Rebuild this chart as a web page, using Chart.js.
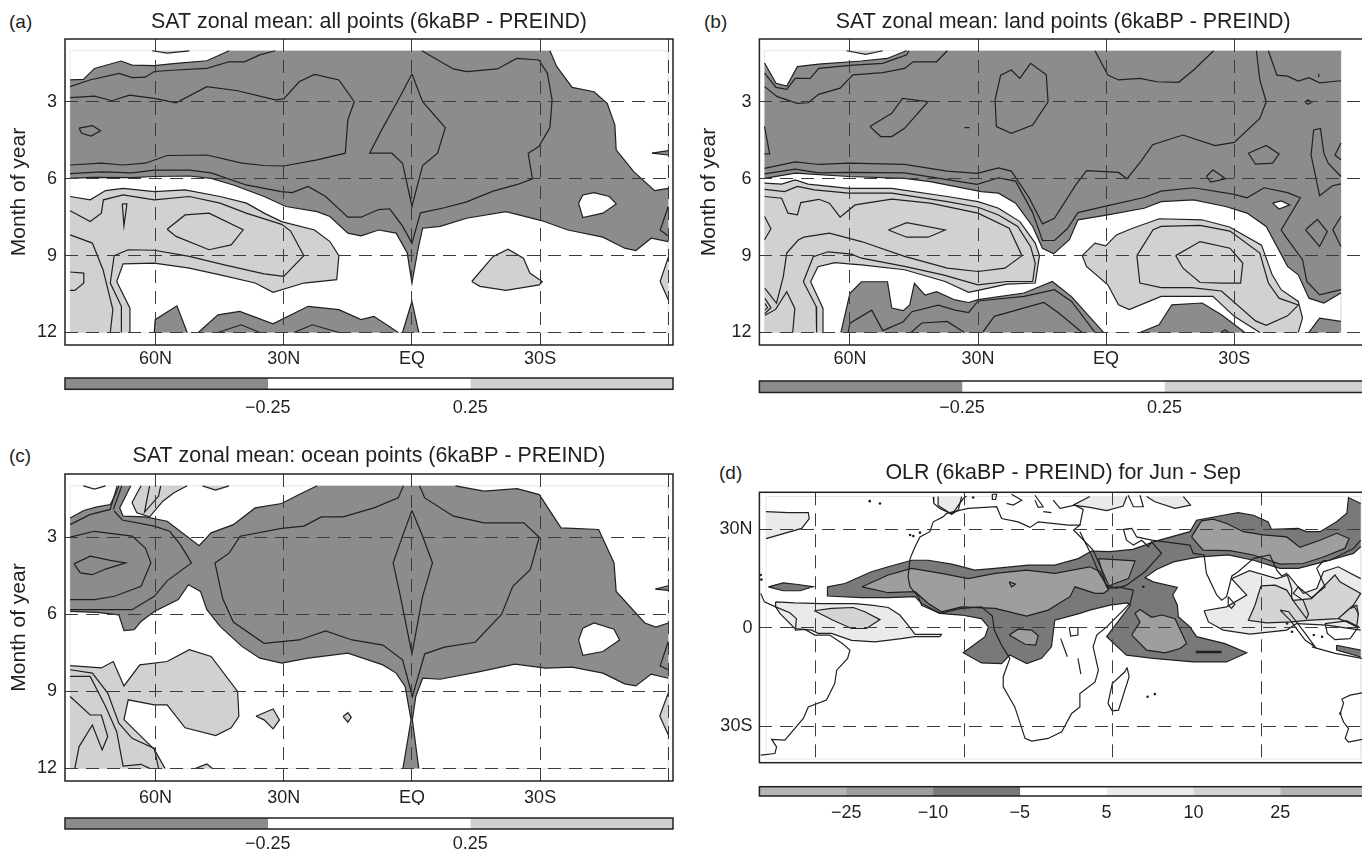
<!DOCTYPE html>
<html>
<head>
<meta charset="utf-8">
<title>SAT and OLR anomalies</title>
<script src="https://cdn.jsdelivr.net/npm/chart.js@4"></script>
<style>
  html, body { margin: 0; background: #fff; overflow: hidden; }
  #page { position: relative; width: 1362px; height: 850px; overflow: hidden; }
  canvas { position: absolute; }
  .tag { position: absolute; font: 19px "Liberation Sans", Arial, sans-serif; color: #231f20; line-height: 20px; }
</style>
</head>
<body>
<div id="page">
  <div class="tag" style="left:9px;top:12px">(a)</div>
  <div class="tag" style="left:704px;top:12px">(b)</div>
  <div class="tag" style="left:9px;top:446px">(c)</div>
  <div class="tag" style="left:719px;top:463px">(d)</div>
</div>
<script>
// tick labels and colour bars
const monthTicks = [3, 6, 9, 12];
const latTicks = [60, 30, 0, -30, -60];
const latNames = { 60: '60N', 30: '30N', 0: 'EQ', '-30': '30S', '-60': '' };
const mapLatTicks = [30, 0, -30];
const mapLatNames = { 30: '30N', 0: '0', '-30': '30S' };
const mapLonTicks = [-45, 0, 45, 90];
const satBarLabels = ['\u22120.25', '0.25'];
const olrBarLabels = ['\u221225', '\u221210', '\u22125', '5', '10', '25'];

// faint outline of the data box, [latitude, month] and [longitude, latitude]
const allBox = [[80,1],[-60,1],[-60,12],[80,12],[80,1]];
const landBox = [[80,1],[-55,1],[-55,12],[80,12],[80,1]];
const mapBox = [[-60,40],[120,40],[120,-40],[-60,-40],[-60,40]];

// panel (a), points are [latitude, month]
const aDark = [[80,2.14],[76.9,2.12],[74.3,1.69],[68.1,1.4],[65.5,1.56],[60.3,1.58],[55.2,1.49],[48,1.39],[42.8,1],[-32.3,1],[-33.9,1.62],[-37.5,2.43],[-42.6,2.6],[-45.7,3.05],[-47.5,3.9],[-47.8,4.87],[-51.9,5.72],[-56.8,6.46],[-60,6.37],[-60,8.45],[-56,8.32],[-52.4,8.8],[-49.8,8.71],[-44.7,8.28],[-36.5,8],[-30.3,7.63],[-22,7.28],[-12.8,7.54],[-6.6,7.86],[-2.5,7.93],[-1.4,8.77],[0,10.07],[1.1,8.9],[3.7,8.12],[7.8,8],[11.9,8.23],[15,8.12],[19.2,7.47],[22.2,7.28],[29.5,7.08],[34.6,6.69],[41.8,6.24],[47,5.98],[52.1,5.89],[60.3,5.91],[65.5,5.95],[74.8,5.94],[80,5.98]];
const aLight = [[80,6.69],[75.3,6.82],[71.7,6.46],[67.6,6.37],[60.3,6.5],[53.1,6.43],[44.9,6.69],[38.7,6.95],[34.6,7.34],[30.5,7.67],[22.8,8],[19.2,8.45],[17.1,9],[17.6,9.94],[25.3,10.07],[32.5,10.43],[36.7,10.07],[44.9,9.75],[52.1,9.49],[60.3,9.29],[67.6,9.32],[69.1,10.01],[66,11.05],[66,12],[80,12]];
const aLightBlob = [[-14,10.01],[-19,9.03],[-22.5,8.75],[-26.1,9.1],[-27.6,9.68],[-30.5,10.01],[-29.8,10.14],[-22,10.36],[-15.9,10.2]];
const aLightTop = [[60.8,1],[57.3,1.09],[52.1,1]];
const aLightRight = [[-60,9.06],[-58.1,10.01],[-60,10.72]];
const aWhiteHole = [[-39,6.95],[-40,6.63],[-42.6,6.54],[-46.2,6.69],[-47.8,6.98],[-44.7,7.34],[-40,7.51]];
const aDarkSliver = [[-56.2,5],[-60,4.9],[-60,5.07]];
const aDarkLow1 = [[60.3,12],[60.1,11.5],[55,10.96],[52.6,12]];
const aDarkLow2 = [[50,12],[45.4,11.31],[40.3,11.18],[32.5,11.66],[24.3,10.98],[17.1,11.11],[11.9,11.5],[8.9,11.37],[3.2,12]];
const aDarkLow3 = [[2.2,12],[0,10.79],[-1.6,12]];
const aLines = [
  [[80,2.4],[75.4,2.14],[68.5,1.88],[65.5,2.05],[62.4,2.03],[60.3,1.81],[55.2,1.75],[48,1.69],[42.8,1.43],[39.2,1.43],[35.6,1.16],[32,1]],
  [[80,2.83],[74.3,2.77],[70.2,2.95],[66.1,2.73],[60.3,2.86],[55.2,3.03],[48,2.4],[40.8,2.56],[32,2.92],[30,2.88],[26.4,2.21],[22.8,1.92],[17.1,2.14],[13.5,2.99],[15,3.7],[15.6,5],[22.2,5.26],[30,5.5],[34.6,5.48],[39.8,5.39],[48,5.07],[57.3,5.09],[62.4,5.39],[67.6,5.46],[72.7,5.39],[80,5.46]],
  [[80,5.8],[72.7,5.73],[65.5,5.77],[60.3,5.66],[52.1,5.66],[47,5.77],[38.8,6.24],[30.6,6.5],[28,6.54],[24.3,6.3],[20.2,6.69],[15,7.5],[11.9,7.5],[7.8,7.2],[5.2,7.17],[2.2,7.85],[0,8.51],[-2,7.33],[-7.6,7.13],[-12.8,6.9],[-19,6.48],[-24.7,6.22],[-28.2,6],[-27.2,5],[-29.7,4.74],[-32.3,4],[-32.8,2.92],[-31.7,1.88],[-29.7,1.36],[-24.5,1.3],[-20,1.71],[-12.8,1.81],[-9.7,1.71],[-2.3,1]],
  [[0,1.91],[-2.5,2.99],[-7.8,4],[-6,5],[-2.5,5.48],[0,7.08],[2.2,5.39],[4.7,5],[9.9,5],[6.8,4],[3.2,2.92],[0,1.91]],
  [[77.9,4.02],[74.8,3.92],[72.9,4.12],[75.1,4.33],[77.3,4.22],[77.9,4.02]],
  [[-60,7.08],[-58.1,8],[-60,8.23]],
  [[80,7.25],[75.3,7.67],[72.7,7.34],[72.2,6.82],[67.6,6.63],[60.3,6.82],[52.1,6.69],[44.9,6.95],[38.8,7.34],[30.5,7.78],[28.4,8.04],[25.3,9],[30,9.81],[34.6,9.71],[43.9,9.36],[52.1,9.03],[60.3,8.79],[66.4,8.77],[69.7,9],[70.6,10.07],[68,10.98],[68,12]],
  [[80,8.19],[74.8,8.51],[72.3,9.55],[70,11.11],[70.6,12]],
  [[57.3,7.97],[53.1,7.41],[47.5,7.34],[39.5,7.99],[42.3,8.58],[47.5,8.77],[55.2,8.25],[57.3,7.97]],
  [[80,9.64],[76.8,9.68],[76.8,10.07],[78.9,10.36],[80,10.36]],
  [[67.8,6.98],[66.7,6.98],[67.4,7.84],[67.8,6.98]],
  [[45.4,12],[40,11.7],[35.6,12]],
  [[27.6,12],[23.3,11.7],[17.1,12]]
];

// panel (b), points are [latitude, month]
const bDark = [[80,1.48],[77.3,2.27],[74.8,2.38],[72.3,1.62],[67.3,1.52],[57.3,1.4],[51.3,1.3],[47.2,1.03],[46.7,1],[-55,1],[-55,10.46],[-51,10.85],[-47.5,10.66],[-45,9.75],[-42.5,9.42],[-37.5,7.86],[-33,7.34],[-28,7.08],[-20.5,6.82],[-12.9,6.89],[-8.9,7.15],[-0.4,7.41],[6.6,7.6],[8.6,8.38],[12.3,8.93],[14.9,8.71],[17.2,7.86],[21.2,6.95],[25.2,6.56],[29.2,6.5],[41.2,6.11],[47.2,5.98],[60.3,5.91],[72.8,5.78],[80,5.98]];
const bLight = [[80,6.17],[76,6.21],[72.8,6.04],[69.8,6.21],[60.3,6.37],[50.2,6.37],[37.2,6.69],[30,6.89],[25.2,7.15],[20.2,7.67],[16.6,8.51],[15.6,9],[16.6,10.07],[23.2,10.11],[30,10.36],[32.2,10.43],[37.7,10.01],[47.2,9.55],[57.3,9.36],[59.6,9.33],[63.5,9.27],[67.5,9.43],[69.2,10.02],[66.3,11.06],[66.3,12],[80,12]];
const bLightRight = [[5.6,9],[2.6,8.51],[0.1,8.62],[-2.4,8.19],[-5.9,7.95],[-12.4,7.56],[-22.4,7.6],[-28.9,7.88],[-36.4,8.59],[-38.9,9.75],[-41,10.33],[-45,10.79],[-46,11.44],[-45,12],[-36,12],[-30,11.37],[-25,10.59],[-12.9,10.59],[-5.4,11.11],[-2.9,10.92],[-0.4,10.14],[4.6,9.42]];
const bLightTop = [[60.8,1],[56.3,1.14],[52.3,1]];
const bDarkLow = [[62.1,12],[60,10.47],[57.3,10.02],[51.2,10.02],[50.2,11.05],[47.5,11.15],[46,10.93],[44.9,10.08],[42.4,10.54],[39.7,10.41],[35.4,10.73],[32.2,10.83],[30,10.72],[19.2,10.46],[12.6,10.01],[8.1,10.6],[0.6,12]];
const bDarkLowRight = [[-7.9,12],[-12.4,11.7],[-15.4,10.92],[-22.5,10.85],[-27,11.31],[-32.5,12]];
const bDarkCorner = [[-47.5,12],[-50,11.44],[-55,11.57],[-55,12]];
const bWhiteHole = [[-39,6.95],[-41,6.86],[-43,7.02],[-40.5,7.18]];
const bLines = [
  [[80,2.4],[77,2.79],[72.3,3.05],[69.8,3.03],[67.3,2.7],[62.3,2.46],[59.3,1.94],[52.3,1.85],[47.2,1.69],[45.2,1.43],[39.7,1.43],[37.2,1]],
  [[80,1.87],[77.3,2.43],[74.8,2.51],[72.8,2.08],[69.3,2.08],[67.3,1.69],[59.3,1.56],[52.3,1.49],[46.7,1.16],[46.2,1]],
  [[80,5.59],[72.8,5.34],[67.3,5.44],[60.3,5.39],[47.2,5.44],[37.2,5.7],[30.2,5.79],[25.2,5.57],[22.2,5.7],[18.2,6.69],[14.9,7.76],[12.1,7.54],[7.1,6.24],[4.6,5.68],[-2.9,5.75],[-4.9,6],[-8.4,5.26],[-10.9,4.67],[-18,4.29],[-25.5,4.7],[-30,4.58],[-36,3.64],[-37.5,2.99],[-36,2.14],[-35.2,1]],
  [[80,5.81],[72.8,5.62],[67.3,5.77],[60.3,5.75],[47.2,5.77],[37.2,6.03],[30.2,6.22],[25.2,5.96],[21.2,6.09],[17.2,7.32],[14.9,8.41],[12.1,8.41],[9.1,7.95],[6.6,7.32],[-0.4,7.05],[-8.9,6.73],[-12.9,6.48],[-20.5,6.35],[-30,6.61],[-33,6.74],[-37,6.35],[-42.5,6.54],[-45.5,6.74],[-41,8],[-42,8.25],[-46,9.16],[-47,10.01],[-50,10.53],[-55,10.33]],
  [[-38,1],[-40,1.95],[-42.5,1.99],[-45,2.18],[-47.5,2.05],[-50,2.25],[-55,2.17]],
  [[26,2.92],[24.7,1.95],[22.2,1.75],[20.2,2.08],[17.7,1.49],[14,1.94],[13.6,2.99],[17.2,3.9],[22.2,4.22],[25.7,3.96],[26,2.92]],
  [[55.3,3.96],[50.2,3.44],[47.7,2.86],[41.7,2.99],[47.2,4.03],[50.2,4.35],[52.8,4.35],[55.3,3.96]],
  [[80,3.96],[78.8,5.03],[80,5.03]],
  [[2.6,1],[-0.4,1.95],[-2.9,2.14],[-7.9,2.08],[-11.9,2.21],[-17,2.23],[-20.5,1.75],[-25.2,1]],
  [[-33.3,5],[-37.5,4.7],[-40.5,5.03],[-39,5.39],[-35,5.43],[-33.3,5]],
  [[-23.5,5.91],[-25,5.65],[-28,6],[-24.5,6.13],[-23.5,5.91]],
  [[-46.7,7.99],[-49.5,7.58],[-51.8,8.06],[-50,8.64],[-46.7,7.99]],
  [[-55,5.91],[-52,5.39],[-51,5],[-50.2,4.03],[-48.6,4.09],[-48,5.07],[-50,6.66],[-53,6.27],[-55,6.2]],
  [[-55,4.6],[-53.6,5.07],[-55,5.26]],
  [[-55,7.47],[-53.1,7.99],[-55,8.64]],
  [[-46.5,3],[-47.3,2.92],[-48.2,3],[-47.3,3.09],[-46.5,3]],
  [[33.2,4],[32,4]],
  [[-49.8,1.9],[-49.8,2.03]],
  [[80,6.41],[75.3,6.5],[72.3,6.3],[68.3,6.43],[60.3,6.56],[50.2,6.56],[37.2,6.89],[30,7.11],[25.2,7.41],[20.7,7.86],[17.7,8.64],[16.6,9.29],[17.2,10.01],[23.2,10.01],[30,10.14],[38.2,9.75],[47.2,9.42],[57.3,9.1],[59.6,8.94],[65.1,8.85],[68.6,9.04],[70.9,10.02],[67.9,10.99],[67.8,12]],
  [[80,6.69],[76,6.76],[74.5,7.34],[72.3,7.41],[71.5,6.93],[67.3,6.8],[64.8,6.95],[62.3,7.5],[58.8,7.02],[50.2,6.79],[41.2,6.95],[30,7.34],[22.7,7.93],[19.7,9],[23.7,9.49],[30,9.62],[37.2,9.49],[47.2,9.03],[57.3,8.45],[64.8,8.12],[70.8,8.28],[72.1,8.39],[74.8,8.9],[75.6,9.82],[77.2,10.86],[79.9,10.28]],
  [[79.9,11.33],[77.4,11.1],[74.8,10.41],[72.9,11.06],[73.4,12]],
  [[79.9,10.67],[78.5,11.03],[79.9,11.26]],
  [[79.9,10.87],[79.3,11.03],[79.9,11.13]],
  [[51,8],[46.7,7.71],[37.7,8],[41.7,8.28],[46.7,8.28],[51,8]],
  [[80,7.47],[78.5,7.95],[80,8.38]],
  [[-7.2,9],[-11,7.99],[-12.9,7.86],[-22,7.82],[-29,8.04],[-36,8.9],[-38,10.07],[-40.5,10.66],[-45,10.93],[-42.5,11.35],[-37.5,11.72],[-35,11.55],[-27,10.38],[-20,10.25],[-12.9,10.25],[-7.9,10.07],[-7.2,9]],
  [[-16.3,9],[-22,8.45],[-29,8.71],[-32,9.29],[-31.5,10.07],[-27,10.07],[-22,10.05],[-18,9.49],[-16.3,9]],
  [[60.4,12],[60,11.64],[54.9,11.13],[52.3,11.93],[47.5,11.58],[45.5,11.19],[39.3,10.93],[35.4,11.13],[32.2,11.22],[30,10.77],[19.2,10.59],[12.1,10.33],[8.1,10.79],[2.6,12]],
  [[28.9,12],[26.2,11.37],[14.6,10.83],[11.1,11.24],[5.6,12]],
  [[45.7,12],[43.2,11.63],[37.2,11.57],[33.2,12]],
  [[-26.8,12],[-27.8,11.9],[-28.8,12]]
];

// panel (c), points are [latitude, month]
const cDark = [[80,2.25],[76.8,1.96],[73.7,1.82],[70.6,1.73],[69.4,1.34],[68.6,1],[65.8,1],[68.4,1.86],[67.6,2.18],[62.4,2.21],[57.3,2.38],[49.8,3.33],[47,2.83],[41.8,2.51],[36.7,1.86],[30.5,1.69],[26.4,1.34],[22.2,1],[-10.2,1],[-16.9,1.21],[-24.6,1.11],[-29.8,1.34],[-34.9,2.64],[-43.7,2.7],[-47.3,4],[-47.8,5.11],[-54.5,6.34],[-57.1,6.5],[-60,6.34],[-60,8.49],[-56,8.33],[-52.4,8.79],[-49.8,8.71],[-44.7,8.29],[-37.5,8.06],[-31.3,8.1],[-24.1,7.94],[-15.9,8.23],[-6.6,8.53],[-2.5,8.49],[-0.9,9.2],[-0.1,10.11],[-1.6,12],[2.1,12],[0.2,10.11],[1.6,8.81],[3.7,8.29],[6.8,7.97],[15,7.51],[24.3,7.71],[30.5,7.9],[35.6,7.71],[39.8,7.25],[44.9,6.47],[48,5.82],[49.5,5.11],[52.3,4.85],[54.7,5.43],[60.3,5.89],[63.4,6.28],[65,6.6],[67.4,6.64],[68.6,6.02],[73.7,5.93],[80,5.89]];
const cLight = [[80,8],[72.7,8.09],[69.9,7.84],[67.4,8.79],[63.7,7.97],[57.3,7.84],[52.1,7.38],[47,7.64],[40.8,9],[40.5,9.97],[42.3,10.42],[45.9,10.72],[53.1,10.42],[57.3,9.53],[60.3,9.53],[66.4,9.33],[67.4,10.1],[60.3,11.26],[57.8,12],[80,12]];
const cLightTop = [[63.4,1],[65.5,1.65],[64.4,2.05],[61.4,2.21],[58.3,1.6],[55.7,1.27],[52.6,1]];
const cLightTop2 = [[49,1],[46,1.17],[42.8,1]];
const cLightBlob = [[36.5,9.97],[32.5,9.69],[31,10.11],[32.5,10.46],[34.6,10.11]];
const cLightDiamond = [[16.1,9.98],[15,9.83],[14.2,10.01],[15,10.2]];
const cLightLow = [[50.6,12],[48,11.83],[46.7,12]];
const cLightRight = [[-60,9.06],[-58,9.96],[-60,10.7]];
const cWhiteHole = [[-39,7],[-40,6.54],[-42.6,6.34],[-47.3,6.58],[-48.6,7],[-44.7,7.45],[-40,7.6]];
const cDarkSliver = [[-57,5.02],[-60,4.89],[-60,5.07]];
const cLines = [
  [[80,2.51],[75.4,2.12],[70.6,1.92],[69,1]],
  [[69.9,1.92],[67.9,1]],
  [[69.7,1.98],[67.8,2.33],[60.3,2.57],[56.7,2.77],[54.2,3.29],[51.6,4],[57.3,4.7],[60.3,5.3],[65.5,5.82],[80,5.82]],
  [[80,3],[74.3,2.77],[65.5,2.96],[62.4,3.42],[61.1,4],[63.4,4.91],[69.6,5.3],[74.3,5.43],[80,5.43]],
  [[79.1,4.04],[75.3,3.74],[70.6,3.9],[67,4],[71.7,4.24],[74.8,4.46],[77.6,4.39],[79.1,4.04]],
  [[46.1,4],[42.8,3.62],[40.2,2.96],[30.5,2.66],[25.3,2.57],[21.2,2.21],[16.1,2.21],[8.9,1.86],[3.2,1.47],[2,1]],
  [[-1.8,1],[-3,1.47],[-9.7,2.18],[-16.9,2.44],[-26.2,2.44],[-29.8,3],[-27.7,4.26],[-23.6,4.91],[-21,6],[-14.8,7.09],[-7.6,7.28],[-3,7.54],[-0.1,9.2],[2.2,7.77],[6.8,7.2],[14,7],[20.2,6.65],[26.4,7],[34.6,7.13],[41.8,6.3],[44.3,5.39],[46.1,4]],
  [[0,1.96],[-2.5,2.96],[-4.8,4],[-2.5,5.3],[0,7.54],[2.7,5.3],[4.4,4],[2.2,2.96],[0,1.96]],
  [[-60,7.06],[-58.1,8.01],[-60,8.16]],
  [[80,8.16],[74.8,8.29],[71.2,9.07],[68.6,10.24],[65.5,10.83],[60.3,11.22],[59.3,12]],
  [[80,8.42],[75.3,8.42],[71.7,9.59],[69.1,10.57],[67.6,11.91],[63.4,11.84],[61.4,12]],
  [[80,9.2],[75.3,9.92],[72.7,9.92],[71.2,10.76],[72.5,11.28],[74.8,10.31],[77.9,11.15],[78.9,12]],
  [[61.4,1],[62.6,2.03],[59.3,1.4],[58.8,1]],
  [[76.9,1],[74.3,1.13],[71.7,1]]
];

// panel (d), points are [longitude, latitude]
const dBand = [[-41.4,12.5],[-36.1,13.5],[-28.1,17.1],[-23,18.6],[-15.9,20.6],[-10.9,20.6],[-3.8,19.4],[1.2,18.1],[3.2,17.6],[9.3,18.1],[19.4,19.1],[27.4,19.1],[34.5,21.1],[38.5,23.4],[44.1,23.2],[51,23.9],[54.7,25.2],[57.2,26.2],[68.3,29.3],[70.3,32.8],[78.4,34.3],[82.9,35.1],[87.5,34.3],[92,32.3],[93,30],[101.1,30.3],[103.6,29.3],[107.7,29.3],[112.7,32.3],[115.8,34.9],[116.3,39.7],[120,37.9],[120,24.7],[117.8,22.7],[108.7,20.1],[101.1,18.1],[95.6,18.1],[87.5,20.6],[79.9,22.2],[71.3,21.6],[68.3,21.1],[63.3,20.1],[58.2,17.8],[54.7,15.3],[57.2,14],[64.5,12.3],[63.1,10],[64.5,6.9],[64.8,3.4],[68.3,0.3],[70.3,-2.7],[78.9,-4.8],[85.5,-7.6],[79.4,-10.4],[69.3,-10.4],[57.2,-9.3],[49.1,-8.3],[43.1,-2.7],[50.3,6.9],[49.3,7.6],[44.1,6.9],[38,5.4],[35,4.4],[27.4,2.3],[26.4,-5.8],[23.4,-9.3],[18.9,-10.9],[13.8,-8.3],[11.3,-10.9],[5.2,-10.7],[-0.3,-7.6],[6.3,-2.7],[7.3,0.3],[5.2,2.8],[-0.8,3.9],[-7.4,4.4],[-12.9,7.4],[-14.9,9.5],[-23,9.2],[-31.1,9.2],[-41.4,9.7]];
const dSliver = [[-59.3,12.5],[-54.8,13.7],[-50.3,13.2],[-45.7,12.5],[-49.7,11.3],[-54.8,11.3]];
const dJava = [[112.7,-5.3],[120,-6.8],[120,-8.9],[112.7,-6.8]];
const dMidAfrica = [[-30.9,12.5],[-23,16.1],[-15.9,18.1],[-6.9,16.6],[1.2,15],[9.3,16.6],[18.9,17.6],[27.4,16.6],[38,18.6],[41.1,17.1],[43.6,11.5],[42.1,10.5],[39.6,10.5],[33.5,12.5],[32,9.5],[25.4,5.4],[18.9,3.6],[9.3,5.9],[-0.8,6.4],[-6.9,4.9],[-10.9,7.4],[-14.9,11],[-23,10.7]];
const dMidArabia = [[40.6,21.1],[51.7,20.4],[49.7,15],[45.6,13.5],[43.1,12.5]];
const dMidCongo = [[13.6,-2.2],[16.3,-0.4],[20.4,-0.7],[22.4,-2.4],[21.6,-5.3],[18.4,-5]];
const dMidAsia = [[68.8,27.7],[71.8,32.6],[75.4,33.1],[79.4,31.8],[84.5,29.3],[90.5,28.3],[97.6,27.7],[101.6,24.5],[107.7,26.7],[112.7,28.8],[116.5,27.2],[115.2,24.2],[108.7,21.6],[102.6,19.6],[95.6,19.4],[87.5,22.2],[80.4,23.5],[72.3,23.7]];
const dMidOcean = [[50.7,-2.2],[53.2,1.8],[51.7,4.4],[53.2,5.6],[56.7,3.2],[59.8,3.9],[63.8,2.8],[67.3,-4.8],[65.3,-6.3],[60.8,-7.6],[55.2,-6.8]];
const dPaleNW = [[-60,35.4],[-53.3,35.1],[-47.2,35.1],[-46.9,33.3],[-49.2,30.3],[-60,27.2]];
const dPaleAtl = [[-57.1,7.9],[-51.3,7.6],[-43.2,7.4],[-33.1,7.4],[-28.1,6.9],[-23,6.2],[-19.5,3.9],[-17,0.8],[-14.9,-2],[-6.9,-2],[-7.4,-2.7],[-14.9,-2.7],[-19,-3.3],[-27,-4.3],[-34.1,-3.8],[-40.2,-1.7],[-44.2,-1.7],[-46.2,-0.7],[-51.3,-0.2],[-55.8,4.4],[-57.1,6.4]];
const dPaleAsia = [[72.6,5.2],[79.4,6.4],[85.5,10],[80.9,15],[86.3,17.4],[94.6,15],[98.1,16.1],[102.6,10.5],[106.7,12],[108.7,17.1],[113.2,18.6],[120,15],[120,-0.7],[109.7,0.8],[100.6,1.3],[97.6,-0.7],[86.5,-1.9],[78.4,-0.7],[73.9,1.8]];
const dPaleMed = [[33,37.4],[38,40],[49.2,40],[48.1,37.1],[43.1,35.7],[38,36.7]];
const dPaleCaspian = [[55.2,40],[66.3,40],[68.5,37.4],[63.8,36.4],[57.7,38.4]];
const dPaleIberia = [[-7.9,40],[-0.8,40],[-1.8,35.9],[-3.8,34.6],[-7.9,37.3]];
const dLightAtl = [[-45.4,5.2],[-40.2,5.9],[-33.6,6.2],[-30.1,4.9],[-25.5,2.5],[-29.6,-0.2],[-34.1,-0.2],[-39.7,2.3]];
const dLightAsia = [[89.8,12.8],[94.1,13],[97.6,11.5],[99.6,8.4],[105.1,8.9],[112.2,16.1],[113.7,14],[120,10.5],[117.8,6.9],[113.2,2.8],[103.6,2.3],[99.1,1.8],[91.5,1.5],[86,2.3],[88,6.9]];
const dLightBorneo = [[113.2,2.8],[117.8,6.9],[119.3,4.4],[118.8,0.3],[115.8,1.8]];
const dThickLine = [[70.1,-7.4],[77.9,-7.4]];
const dCoasts = [
  [[-61.6,10.5],[-60.5,7.9],[-57.1,6.4],[-52.8,4.6],[-50.8,2.8],[-51.1,-0.7],[-48.2,-0.5],[-45.2,-2.2],[-40.7,-2.2],[-36.9,-4.8],[-34.6,-6.8],[-35.3,-9.3],[-38.6,-12.9],[-39.2,-17],[-41.7,-22],[-47.2,-24.1],[-48.7,-27.6],[-54.3,-34.2],[-58.3,-34],[-56.8,-36.3],[-57.3,-38.3],[-61.6,-38.8]],
  [[-6.4,33.8],[-9.4,32.3],[-10.4,29.3],[-13.4,27.7],[-14.9,24.7],[-16.4,21.1],[-17,15.5],[-16.4,12.5],[-13.9,9.5],[-12.9,6.9],[-7.4,4.4],[-0.8,5.9],[5.2,6.4],[8.5,3.6],[9.1,-0.7],[11.3,-5.3],[13.8,-9.3],[11.8,-14.9],[11.8,-18],[15.3,-24.1],[18.4,-33.7],[20.4,-34.5],[25.4,-33.7],[29.5,-31.7],[32.5,-26.1],[35,-24.1],[35,-20],[39.6,-16.5],[40.6,-12.9],[39,-5.8],[40.1,-2.2],[43.1,0.3],[50.2,7.4],[51.2,11.5],[46.6,12.5],[43.6,12],[43.5,13.5],[39,23.7],[33.1,29.8],[35,31.3],[31.5,31.3],[22.4,32.3],[19.9,30.6],[16.3,32.3],[11.3,33.3],[9.8,36.9],[1.2,36.4],[-5.3,34.9],[-6.4,33.8]],
  [[35,29.3],[38.5,22.2],[40.6,17.1],[43.1,13],[46.1,12],[49.1,13],[54.7,17.1],[59.7,22.7],[56.7,26.2],[55.7,24.7],[53.7,26.7],[51.2,25.2],[49.1,26.7],[48.2,30]],
  [[48.2,30],[50.7,30.3],[52.2,27.7],[56.7,26.7],[68.3,25.2],[69.3,22.7],[72.6,22.2],[73.3,16.6],[76.4,10],[77.9,8.4],[79.4,9.5],[81,15.8],[82.9,17.1],[87.5,21.1],[92.5,22.2],[94.6,17.6],[96.1,15.8],[97.6,16.6],[99.1,12],[99.1,8.9],[103.6,2.8],[104.2,4.2],[102.6,8.4],[99.6,10.5],[101.1,12.5],[105.1,9.2],[109.2,12.5],[106.7,18.1],[108.7,20.4],[110.7,20.6],[117.8,24.2],[120,26.7]],
  [[95.6,5.4],[98.2,4.9],[103.2,-1.7],[106.2,-5.8],[103.2,-3.8],[98.7,2.3],[95.6,5.4]],
  [[109.2,1.3],[115.8,2.1],[119.3,0.3],[116.8,-3.3],[112.2,-3.6],[109.9,-1.7],[109.2,1.3]],
  [[105.2,-5.8],[112.3,-7.8],[120.4,-9.3]],
  [[117,5.9],[118.8,6.9],[119.3,3.9]],
  [[79.9,9.5],[81.9,7.2],[80.9,5.9],[79.9,6.9],[79.9,9.5]],
  [[120.4,-19.8],[116.8,-20.5],[114.3,-21.7],[114.8,-23],[113.8,-26.1],[114.8,-28.7],[116.3,-30.7],[115.3,-33.7],[116.3,-34.8],[120.4,-34]],
  [[49.3,-12.1],[49.9,-14.9],[46.7,-25.1],[44.8,-25.3],[43.5,-23.1],[44.8,-17],[48.6,-13.4],[49.3,-12.1]],
  [[29.2,-3.3],[31.2,-8.8]],
  [[34.4,-9.3],[35.3,-14.1]],
  [[31.8,0.1],[34.4,0.1],[34.4,-2.2],[32.2,-2.5],[31.8,0.1]],
  [[13.6,14],[15.5,13.3],[14.3,12.5],[13.6,14]],
  [[26.9,38.9],[29,36.4],[33.5,37.4],[36,36.1],[35,31.3]],
  [[-9.4,39.9],[-9.2,37.9],[-7.4,36.4],[-3.8,34.7],[-2.8,35.9],[-0.3,39.4],[0.7,40.1]],
  [[14.3,40.7],[17.4,38.9],[14.8,37.4],[12.8,37.9]],
  [[8.5,40.7],[9.8,40.7],[9.5,39.1],[8.5,39.1],[8.5,40.7]],
  [[21.4,40.4],[23.9,36.9],[22.4,36.7],[21.4,38.9]],
  [[23.9,35.4],[26.4,35.1]],
  [[49.6,40.4],[51.2,36.9],[54.2,36.9],[53.2,40.4]]
];
const dIslands = [[-16.4,28.3],[-15.4,28],[-13.4,29],[-28.6,38.6],[-25.5,37.9],[55.5,-21],[57.7,-20.2],[97.7,1.3],[99.2,-1.2],[105.8,-2.2],[108.3,-2.7],[54.2,12.5],[-61.6,16.1],[-61.4,14.7],[2.7,39.7],[113.8,-26.1]];

// greys
const ink = '#231f20';
const faint = '#e6e7e8';
const satDark = '#8a8c8e';
const satLight = '#cfd1d3';
const olrDark = '#77797b';
const olrMid = '#9c9ea0';
const olrSoft = '#b3b5b7';
const olrLight = '#d2d4d6';
const olrPale = '#e9ebea';

Chart.defaults.font.family = '"Liberation Sans", Arial, sans-serif';
Chart.defaults.color = ink;

function xy(points) {
  return points.map(p => ({ x: p[0], y: p[1] }));
}

function contour(points, width, color) {
  return { type: 'scatter', showLine: true, data: xy(points), fill: false, borderColor: color || ink,
    borderWidth: width || 1.2, pointRadius: 0, tension: 0 };
}

// a filled shape, with the outline left out along the edge of the data box
function shape(points, color, edgesX, edgesY) {
  const closed = points.concat([points[0]]);
  const onEdge = (a, b) => (a.x === b.x && edgesX.includes(a.x)) || (a.y === b.y && edgesY.includes(a.y));
  return [
    { type: 'scatter', showLine: true, data: xy(points), fill: 'shape', backgroundColor: color,
      borderWidth: 0, pointRadius: 0, tension: 0 },
    { type: 'scatter', showLine: true, data: xy(closed), fill: false, borderColor: ink, borderWidth: 1.2,
      pointRadius: 0, tension: 0,
      segment: { borderColor: c => onEdge(c.p0.parsed, c.p1.parsed) ? 'transparent' : ink } }
  ];
}

const framePlugin = {
  id: 'frame',
  afterDraw(chart) {
    const a = chart.chartArea;
    chart.ctx.save();
    chart.ctx.strokeStyle = ink;
    chart.ctx.lineWidth = 1.5;
    chart.ctx.strokeRect(a.left, a.top, a.right - a.left, a.bottom - a.top);
    chart.ctx.restore();
  }
};

function addCanvas(left, top, width, height) {
  const c = document.createElement('canvas');
  c.width = width;
  c.height = height;
  c.style.left = left + 'px';
  c.style.top = top + 'px';
  document.getElementById('page').appendChild(c);
  return c;
}

function gridAxis(min, max, ticks, label, extra, pad) {
  return Object.assign({
    type: 'linear', min: min, max: max,
    afterBuildTicks: s => { s.ticks = ticks.map(v => ({ value: v })); },
    grid: { color: '#3c3a3b', lineWidth: 1, z: 1, drawTicks: false },
    border: { display: false, dash: [13, 8] },
    ticks: { callback: label, autoSkip: false, maxRotation: 0, padding: pad, font: { size: 18 } }
  }, extra);
}

function drawPanel(p) {
  const canvas = addCanvas(p.left, p.top, p.width, p.height);
  const titleSize = 21.4;
  const titleBox = titleSize * 1.2;
  new Chart(canvas, {
    type: 'scatter',
    data: { datasets: p.marks.slice().reverse() },
    plugins: [framePlugin],
    options: {
      responsive: false, animation: false, events: [],
      layout: { padding: { right: p.width - p.right, left: 0, top: 0, bottom: 0 } },
      plugins: {
        legend: { display: false }, tooltip: { enabled: false },
        title: { display: true, text: p.title, fullSize: false, font: { size: titleSize, weight: 'normal' }, color: ink,
          padding: { top: p.titleY - titleBox / 2, bottom: p.areaTop - p.titleY - titleBox / 2 } }
      },
      scales: { x: p.x, y: p.y }
    }
  });
}

function drawBar(b) {
  const canvas = addCanvas(b.left, b.top, b.width, b.height);
  new Chart(canvas, {
    type: 'bar',
    data: {
      labels: [''],
      datasets: b.colors.map(c => ({ data: [1], backgroundColor: c, barPercentage: 1, categoryPercentage: 1 }))
    },
    plugins: [framePlugin],
    options: {
      indexAxis: 'y', responsive: false, animation: false, events: [],
      layout: { padding: { left: b.areaLeft, right: b.width - b.areaRight, top: b.areaTop, bottom: 0 } },
      plugins: { legend: { display: false }, tooltip: { enabled: false } },
      scales: {
        y: { display: false, stacked: true },
        x: {
          type: 'linear', stacked: true, min: 0, max: b.colors.length,
          afterBuildTicks: s => { s.ticks = b.labels.map((t, i) => ({ value: i + 1 })); },
          afterFit: s => { s.height = b.height - b.areaBottom; },
          grid: { display: false, drawTicks: false }, border: { display: false },
          ticks: { callback: v => b.labels[v - 1], autoSkip: false, maxRotation: 0, padding: b.pad, font: { size: 18 } }
        }
      }
    }
  });
}

function latAxis(h, pad) {
  return gridAxis(-61.1, 81.2, latTicks, v => latNames[v], {
    reverse: true, afterFit: s => { s.height = h; } }, pad);
}

function monthAxis(left, min, max) {
  return gridAxis(min, max, monthTicks, v => v, {
    reverse: true,
    afterFit: s => { s.width = left; },
    title: { display: true, text: 'Month of year', font: { size: 21 }, color: ink, padding: { top: 7, bottom: 0 } }
  }, 8);
}

const eX = [80, -60];
const eBX = [80, -55];
const eY = [1, 12];

const aMarks = [
  contour(allBox, 1, faint),
  ...shape(aDark, satDark, eX, eY),
  ...shape(aLight, satLight, eX, eY),
  ...shape(aLightBlob, satLight, eX, eY),
  ...shape(aLightTop, satLight, eX, eY),
  ...shape(aLightRight, satLight, eX, eY),
  ...shape(aWhiteHole, '#ffffff', eX, eY),
  ...shape(aDarkSliver, satDark, eX, eY),
  ...shape(aDarkLow1, satDark, eX, eY),
  ...shape(aDarkLow2, satDark, eX, eY),
  ...shape(aDarkLow3, satDark, eX, eY),
  ...aLines.map(l => contour(l))
];

const bMarks = [
  contour(landBox, 1, faint),
  ...shape(bDark, satDark, eBX, eY),
  ...shape(bLight, satLight, eBX, eY),
  ...shape(bLightRight, satLight, eBX, eY),
  ...shape(bLightTop, satLight, eBX, eY),
  ...shape(bDarkLow, satDark, eBX, eY),
  ...shape(bDarkLowRight, satDark, eBX, eY),
  ...shape(bDarkCorner, satDark, eBX, eY),
  ...shape(bWhiteHole, '#ffffff', eBX, eY),
  ...bLines.map(l => contour(l))
];

const cMarks = [
  contour(allBox, 1, faint),
  ...shape(cDark, satDark, eX, eY),
  ...shape(cLight, satLight, eX, eY),
  ...shape(cLightTop, satLight, eX, eY),
  ...shape(cLightTop2, satLight, eX, eY),
  ...shape(cLightBlob, satLight, eX, eY),
  ...shape(cLightDiamond, satLight, eX, eY),
  ...shape(cLightLow, satLight, eX, eY),
  ...shape(cLightRight, satLight, eX, eY),
  ...shape(cWhiteHole, '#ffffff', eX, eY),
  ...shape(cDarkSliver, satDark, eX, eY),
  ...cLines.map(l => contour(l))
];

const mapEX = [-60, 120];
const mapEY = [40];
const dMarks = [
  contour(mapBox, 1, faint),
  ...[dPaleNW, dPaleAtl, dPaleAsia, dPaleMed, dPaleCaspian, dPaleIberia].flatMap(s => shape(s, olrPale, mapEX, mapEY)),
  ...[dLightAtl, dLightAsia, dLightBorneo].flatMap(s => shape(s, olrLight, mapEX, mapEY)),
  ...[dBand, dSliver, dJava].flatMap(s => shape(s, olrDark, mapEX, mapEY)),
  ...[dMidAfrica, dMidArabia, dMidCongo, dMidAsia, dMidOcean].flatMap(s => shape(s, olrMid, mapEX, mapEY)),
  contour(dThickLine, 2.5),
  ...dCoasts.map(l => contour(l, 1.2)),
  { type: 'scatter', data: xy(dIslands), pointRadius: 1.3, backgroundColor: ink, borderWidth: 0 }
];

drawPanel({ left: 0, top: 0, width: 690, height: 370, right: 673, areaTop: 39, titleY: 22,
  title: 'SAT zonal mean: all points (6kaBP - PREIND)', marks: aMarks,
  x: latAxis(25, 3), y: monthAxis(65, 0.54, 12.49) });
drawPanel({ left: 690, top: 0, width: 690, height: 370, right: 677, areaTop: 39, titleY: 22,
  title: 'SAT zonal mean: land points (6kaBP - PREIND)', marks: bMarks,
  x: latAxis(25, 3), y: monthAxis(69.4, 0.54, 12.49) });
drawPanel({ left: 0, top: 430, width: 690, height: 375, right: 673, areaTop: 44, titleY: 26,
  title: 'SAT zonal mean: ocean points (6kaBP - PREIND)', marks: cMarks,
  x: latAxis(24, 6), y: monthAxis(65, 0.54, 12.49) });
drawPanel({ left: 690, top: 450, width: 690, height: 325, right: 677, areaTop: 42.3, titleY: 23,
  title: 'OLR (6kaBP - PREIND) for Jun - Sep', marks: dMarks,
  x: gridAxis(-62, 121.9, mapLonTicks, () => '', { afterFit: s => { s.height = 12.3; }, ticks: { display: false } }),
  y: gridAxis(-41.1, 41.3, mapLatTicks, v => mapLatNames[v], {
    afterFit: s => { s.width = 69.4; s.paddingTop = 0; s.paddingBottom = 0; } }, 7) });

const satColors = [satDark, '#ffffff', satLight];
const olrColors = [olrSoft, olrMid, olrDark, '#ffffff', olrPale, olrLight, olrSoft];
drawBar({ left: 0, top: 370, width: 690, height: 50, areaLeft: 65, areaRight: 673, areaTop: 8, areaBottom: 19.3, pad: 8, colors: satColors, labels: satBarLabels });
drawBar({ left: 690, top: 370, width: 690, height: 50, areaLeft: 69.4, areaRight: 677, areaTop: 11, areaBottom: 22.5, pad: 5, colors: satColors, labels: satBarLabels });
drawBar({ left: 0, top: 805, width: 690, height: 45, areaLeft: 65, areaRight: 673, areaTop: 13, areaBottom: 24, pad: 4, colors: satColors, labels: satBarLabels });
drawBar({ left: 690, top: 775, width: 690, height: 50, areaLeft: 69.4, areaRight: 677, areaTop: 11.7, areaBottom: 21, pad: 6, colors: olrColors, labels: olrBarLabels });
</script>
</body>
</html>
